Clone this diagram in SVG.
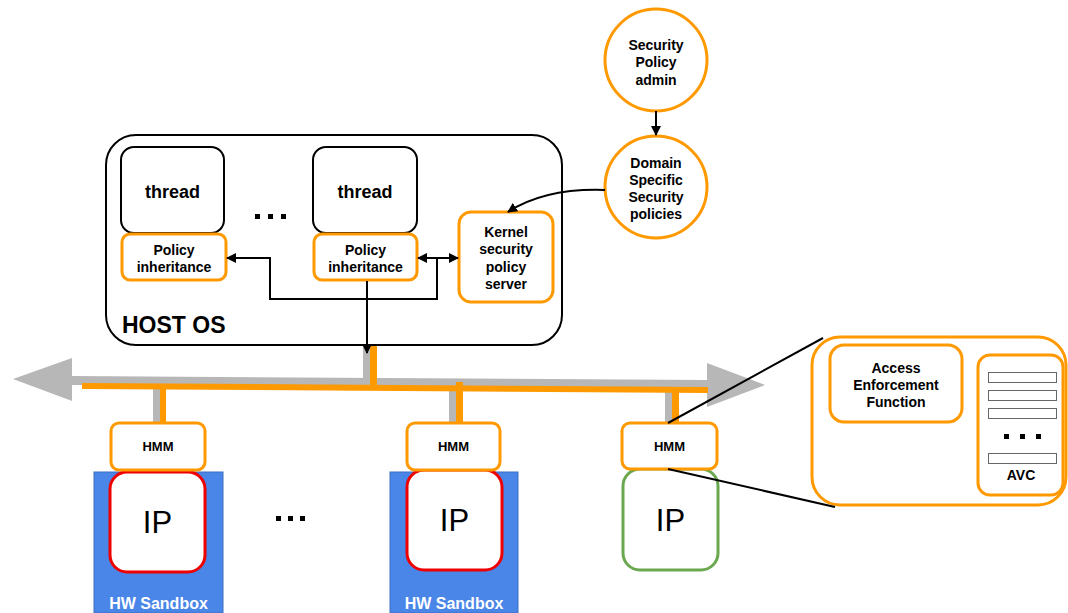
<svg xmlns="http://www.w3.org/2000/svg" width="1068" height="613" viewBox="0 0 1068 613">
<defs>
<style>
.t{font-family:"Liberation Sans",Arial,sans-serif;font-weight:bold;fill:#000;text-anchor:middle;font-size:14px}
.orng{fill:#fff;stroke:#f90;stroke-width:3}
.blk{fill:#fff;stroke:#000;stroke-width:2}
.ln{fill:none;stroke:#000;stroke-width:2}
.ip{font-family:"Liberation Sans",Arial,sans-serif;font-size:31px;fill:#000;text-anchor:middle}
.hw{font-family:"Liberation Sans",Arial,sans-serif;font-weight:bold;font-size:16px;fill:#fff;text-anchor:middle}
</style>
<marker id="ah" markerWidth="10" markerHeight="10" refX="9" refY="5" orient="auto-start-reverse" markerUnits="userSpaceOnUse">
<path d="M0,0 L10,5 L0,10 Z" fill="#000"/>
</marker>
</defs>
<rect width="1068" height="613" fill="#fff"/>

<g id="bus">
<polygon points="13,379 72,358 72,376 707,380 707,363 765,385 707,407 707,390 72,385 72,401" fill="#b7b7b7"/>
<rect x="363" y="345" width="9" height="36" fill="#b7b7b7"/>
<rect x="153" y="385" width="8" height="38" fill="#b7b7b7"/>
<rect x="449" y="383" width="8" height="40" fill="#b7b7b7"/>
<rect x="665" y="390" width="8" height="33" fill="#b7b7b7"/>
<line x1="82" y1="386" x2="708" y2="390" stroke="#f90" stroke-width="6"/>
<rect x="370" y="345" width="7" height="43" fill="#f90"/>
<rect x="160" y="386" width="6" height="37" fill="#f90"/>
<rect x="456" y="382" width="7" height="41" fill="#f90"/>
<rect x="672" y="390" width="7" height="38" fill="#f90"/>
</g>

<g id="hostos">
<rect x="106" y="135" width="456" height="210" rx="30" class="blk"/>
<text x="122" y="333" class="t" style="font-size:23px;text-anchor:start">HOST OS</text>
<g fill="#000"><rect x="255" y="214" width="5" height="5"/><rect x="268" y="214" width="5" height="5"/><rect x="281" y="214" width="5" height="5"/></g>
</g>

<g id="thread1">
<rect x="121" y="147" width="103" height="86" rx="13" class="blk"/>
<text x="172.5" y="198" class="t" style="font-size:18px">thread</text>
</g>
<g id="thread2">
<rect x="313" y="147" width="104" height="86" rx="13" class="blk"/>
<text x="365" y="198" class="t" style="font-size:18px">thread</text>
</g>
<g id="pi1">
<rect x="122" y="234" width="104" height="46" rx="8" class="orng"/>
<text x="174" y="255" class="t">Policy</text>
<text x="174" y="272" class="t">inheritance</text>
</g>
<g id="pi2">
<rect x="314" y="234" width="103" height="46" rx="8" class="orng"/>
<text x="365.5" y="255" class="t">Policy</text>
<text x="365.5" y="272" class="t">inheritance</text>
</g>
<g id="kernel">
<rect x="459" y="212" width="94" height="90" rx="12" class="orng"/>
<text x="506" y="237" class="t">Kernel</text>
<text x="506" y="254" class="t">security</text>
<text x="506" y="272" class="t">policy</text>
<text x="506" y="289" class="t">server</text>
</g>

<g id="admin">
<circle cx="656" cy="60" r="51" class="orng"/>
<text x="656" y="50" class="t">Security</text>
<text x="656" y="67" class="t">Policy</text>
<text x="656" y="85" class="t">admin</text>
</g>
<g id="domain">
<circle cx="656" cy="187" r="51" class="orng"/>
<text x="656" y="168" class="t">Domain</text>
<text x="656" y="185" class="t">Specific</text>
<text x="656" y="202" class="t">Security</text>
<text x="656" y="219" class="t">policies</text>
</g>

<g id="sandbox1">
<rect x="94" y="472" width="129" height="141" fill="#4a86e8" stroke="#3c6fc4" stroke-width="1"/>
<text x="158.5" y="609" class="hw">HW Sandbox</text>
</g>
<g id="sandbox2">
<rect x="390" y="472" width="128" height="141" fill="#4a86e8" stroke="#3c6fc4" stroke-width="1"/>
<text x="454" y="609" class="hw">HW Sandbox</text>
</g>
<g id="ip1">
<rect x="110" y="472" width="95" height="100" rx="17" fill="#fff" stroke="#e00" stroke-width="3"/>
<text x="157.5" y="533" class="ip">IP</text>
</g>
<g id="ip2">
<rect x="407" y="470" width="95" height="100" rx="17" fill="#fff" stroke="#e00" stroke-width="3"/>
<text x="454.5" y="531" class="ip">IP</text>
</g>
<g id="ip3">
<rect x="623" y="469" width="95" height="101" rx="17" fill="#fff" stroke="#6aa84f" stroke-width="3"/>
<text x="670.5" y="531" class="ip">IP</text>
</g>
<g id="hmm1">
<rect x="111" y="423" width="94" height="47" rx="8" class="orng"/>
<text x="158" y="451" class="t" style="font-size:13px">HMM</text>
</g>
<g id="hmm2">
<rect x="407" y="423" width="93" height="47" rx="8" class="orng"/>
<text x="453.5" y="451" class="t" style="font-size:13px">HMM</text>
</g>
<g id="hmm3">
<rect x="622" y="423" width="95" height="46" rx="8" class="orng"/>
<text x="669.5" y="451" class="t" style="font-size:13px">HMM</text>
</g>
<g id="dots-bottom" fill="#000">
<rect x="276" y="516" width="5" height="5"/><rect x="288" y="516" width="5" height="5"/><rect x="300" y="516" width="5" height="5"/>
</g>

<g id="detail">
<rect x="812" y="337" width="254" height="168" rx="28" class="orng"/>
<g id="aef">
<rect x="830" y="345" width="132" height="77" rx="14" class="orng"/>
<text x="896" y="373" class="t">Access</text>
<text x="896" y="390" class="t">Enforcement</text>
<text x="896" y="407" class="t">Function</text>
</g>
<g id="avc">
<rect x="978" y="355" width="85" height="140" rx="12" class="orng"/>
<g fill="#fff" stroke="#666" stroke-width="1">
<rect x="988.5" y="372.5" width="68" height="10"/>
<rect x="988.5" y="390.5" width="68" height="10"/>
<rect x="988.5" y="408.5" width="68" height="10"/>
<rect x="988.5" y="453.5" width="68" height="10"/>
</g>
<g fill="#000"><rect x="1004" y="434" width="5" height="5"/><rect x="1020" y="434" width="5" height="5"/><rect x="1036" y="434" width="5" height="5"/></g>
<text x="1021" y="480" class="t">AVC</text>
</g>
</g>

<g id="connectors">
<line x1="656" y1="111" x2="656" y2="135" class="ln" marker-end="url(#ah)"/>
<path d="M605,190 Q545,188 508,212" class="ln" marker-end="url(#ah)"/>
<line x1="418" y1="258" x2="458" y2="258" class="ln" marker-start="url(#ah)" marker-end="url(#ah)"/>
<polyline points="437,258 437,299 270,299 270,258 227,258" class="ln" marker-end="url(#ah)"/>
<line x1="367" y1="281" x2="367" y2="353" class="ln" marker-end="url(#ah)"/>
<line x1="668" y1="423" x2="823" y2="338" stroke="#000" stroke-width="2"/>
<line x1="668" y1="469" x2="835" y2="507" stroke="#000" stroke-width="2"/>
</g>
</svg>
